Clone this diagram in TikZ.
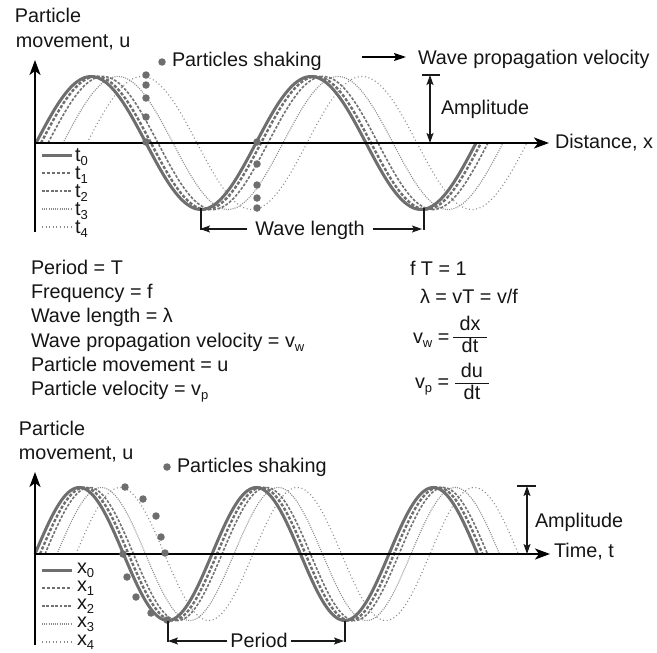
\documentclass[tikz,border=0pt]{standalone}
\usepackage{fontspec}
\setmainfont{Liberation Sans}
\usetikzlibrary{arrows.meta}
\definecolor{txt}{HTML}{151515}
\definecolor{wavea}{HTML}{6E6E6E}
\definecolor{waveb}{HTML}{727272}
\definecolor{wavec}{HTML}{8A8A8A}
\newcommand\sbs[1]{\raisebox{-0.24em}{\fontsize{13}{13}\selectfont #1}}
\begin{document}
\begin{tikzpicture}[x=1pt,y=-1pt,
  every node/.style={inner sep=0pt,outer sep=0pt,text=txt,font=\fontsize{19.8}{23}\selectfont},
  axis/.style={draw=black,line width=2pt,-{Stealth[length=15pt,width=11pt,inset=4pt]}},
  wzero/.style={draw=wavea,line width=3pt},
  wone/.style={draw=wavea,line width=2.4pt,dash pattern=on 3.2pt off 1.8pt},
  wtwo/.style={draw=waveb,line width=1.6pt,dash pattern=on 2.8pt off 1.6pt},
  wthree/.style={draw=wavec,line width=1.1pt,dash pattern=on 1pt off 1.2pt},
  wfour/.style={draw=wavec,line width=1.1pt,dash pattern=on 1pt off 2.6pt},
  pdot/.style={circle,fill=wavea,minimum size=7.5pt},
  dimarr/.style={draw=black!90,line width=1.1pt,-{Stealth[length=10pt,width=7pt,inset=2pt]}},
  dimboth/.style={draw=black!90,line width=1.1pt,{Stealth[length=10pt,width=7pt,inset=2pt]}-{Stealth[length=10pt,width=7pt,inset=2pt]}},
  tick/.style={draw=black!90,line width=1.1pt}
]
\useasboundingbox (0,0) rectangle (657,653);

% ================= TOP: distance =================
\foreach \s/\st in {51/wfour,27/wthree,12/wtwo,5/wone,0/wzero}
  \draw[\st] plot[domain=0:440,samples=181,smooth] ({36+\s+\x},{143-66.5*sin(\x/220*360)});

\coordinate (yb1) at (35,232);
\coordinate (yt1) at (35,60);
\coordinate (xo1) at (35,143);
\coordinate (xt1) at (549,143);
\draw[axis] (yb1) -- (yt1);
\draw[axis] (xo1) -- (xt1);

\node[anchor=base west] (lab1a) at (15,22) {Particle};
\node[anchor=base west] (lab1b) at (16,47) {movement, u};
\node[anchor=base west] (dist) at (555,148) {Distance, x};

% particles shaking
\node[pdot] (ps1) at (162,62) {};
\node[anchor=base west] (pst1) at (172,66) {Particles shaking};
\foreach \yy in {75,85,98,117,142} \node[pdot] at (146,\yy) {};
\foreach \yy in {142,164,185,198,208} \node[pdot] at (257,\yy) {};

% propagation velocity
\node[anchor=base west] (wpv) at (418,64) {Wave propagation velocity};
\coordinate (wpa) at (362,57);
\draw[draw=black,line width=1.6pt,-{Stealth[length=12pt,width=8pt,inset=2pt]}] (wpa) -- ([xshift=-12pt]wpv.west |- wpa);

% amplitude
\coordinate (at1) at (430,75);
\coordinate (ab1) at (430,143);
\draw[dimboth] (at1) -- (ab1);
\draw[tick] (422,75) -- (440,75);
\node[anchor=base west] (amp1) at (441,114) {Amplitude};

% wave length
\node[anchor=base] (wl) at (310,235) {Wave length};
\coordinate (wlL) at (200,229);
\coordinate (wlR) at (422,229);
\draw[dimarr] ([xshift=-8pt]wl.west |- wlL) -- (wlL);
\draw[dimarr] ([xshift=8pt]wl.east |- wlR) -- (wlR);
\draw[tick] (201,208) -- (201,230);
\draw[tick] (424,208) -- (424,230);

% legend top
\foreach \i/\st/\yy in {0/wzero/155,1/wone/173,2/wtwo/191,3/wthree/209,4/wfour/227}{
  \draw[\st] (42,\yy) -- (72,\yy);
  \node[anchor=base west] (lt\i) at (75,\yy+6) {t\sbs{\i}};
}

% ================= FORMULAS =================
\node[anchor=base west] (f1) at (31,274) {Period = T};
\node[anchor=base west] (f2) at (31,298.5) {Frequency = f};
\node[anchor=base west] (f3) at (31,322.5) {Wave length = λ};
\node[anchor=base west] (f4) at (31,347) {Wave propagation velocity = v\sbs{w}};
\node[anchor=base west] (f5) at (31,371) {Particle movement = u};
\node[anchor=base west] (f6) at (31,395) {Particle velocity = v\sbs{p}};

\node[anchor=base west] (r1) at (410,275) {f T = 1};
\node[anchor=base west] (r2) at (420,303) {λ = vT = v/f};
\node[anchor=base west] (r3) at (413,343) {v\sbs{w} =};
\node[anchor=base] (r3n) at (470,330) {dx};
\node[anchor=base] (r3d) at (470,352) {dt};
\draw[line width=0.9pt,draw=txt] (453,337) -- (487,337);
\node[anchor=base west] (r4) at (415,388) {v\sbs{p} =};
\node[anchor=base] (r4n) at (472,377) {du};
\node[anchor=base] (r4d) at (472,399) {dt};
\draw[line width=0.9pt,draw=txt] (455,383) -- (489,383);

% ================= BOTTOM: time =================
\foreach \s/\st in {41/wfour,22/wthree,10/wtwo,5/wone,0/wzero}
  \draw[\st] plot[domain=0:442.5,samples=201,smooth] ({35+\s+\x},{554-66.5*sin(\x/88.5*180)});

\coordinate (yb2) at (35,645);
\coordinate (yt2) at (35,472);
\coordinate (xo2) at (35,554);
\coordinate (xt2) at (550,554);
\draw[axis] (yb2) -- (yt2);
\draw[axis] (xo2) -- (xt2);

\node[anchor=base west] (lab2a) at (19,435) {Particle};
\node[anchor=base west] (lab2b) at (19,459) {movement, u};
\node[anchor=base west] (time) at (554,557) {Time, t};

\node[pdot] (ps2) at (167,467) {};
\node[anchor=base west] (pst2) at (177,472) {Particles shaking};
\foreach \xx/\yy in {125/487,143/499,156/516,161/537,165/553,123/554,127/577,136/597,151/613,167/620}
  \node[pdot] at (\xx,\yy) {};

% amplitude bottom
\coordinate (at2) at (527,486);
\coordinate (ab2) at (527,554);
\draw[dimboth] (at2) -- (ab2);
\draw[tick] (517,486) -- (536,486);
\node[anchor=base west] (amp2) at (535,527) {Amplitude};

% period
\node[anchor=base] (per) at (259,647) {Period};
\coordinate (pL) at (168,641);
\coordinate (pR) at (344,641);
\draw[dimarr] ([xshift=-3pt]per.west |- pL) -- (pL);
\draw[dimarr] ([xshift=3pt]per.east |- pR) -- (pR);
\draw[tick] (168,621) -- (168,642);
\draw[tick] (345,621) -- (345,642);

% legend bottom
\foreach \i/\st/\yy in {0/wzero/570,1/wone/588,2/wtwo/606,3/wthree/624,4/wfour/642}{
  \draw[\st] (42,\yy) -- (72,\yy);
  \node[anchor=base west] (lx\i) at (77,\yy+3) {x\sbs{\i}};
}
\end{tikzpicture}
\end{document}
